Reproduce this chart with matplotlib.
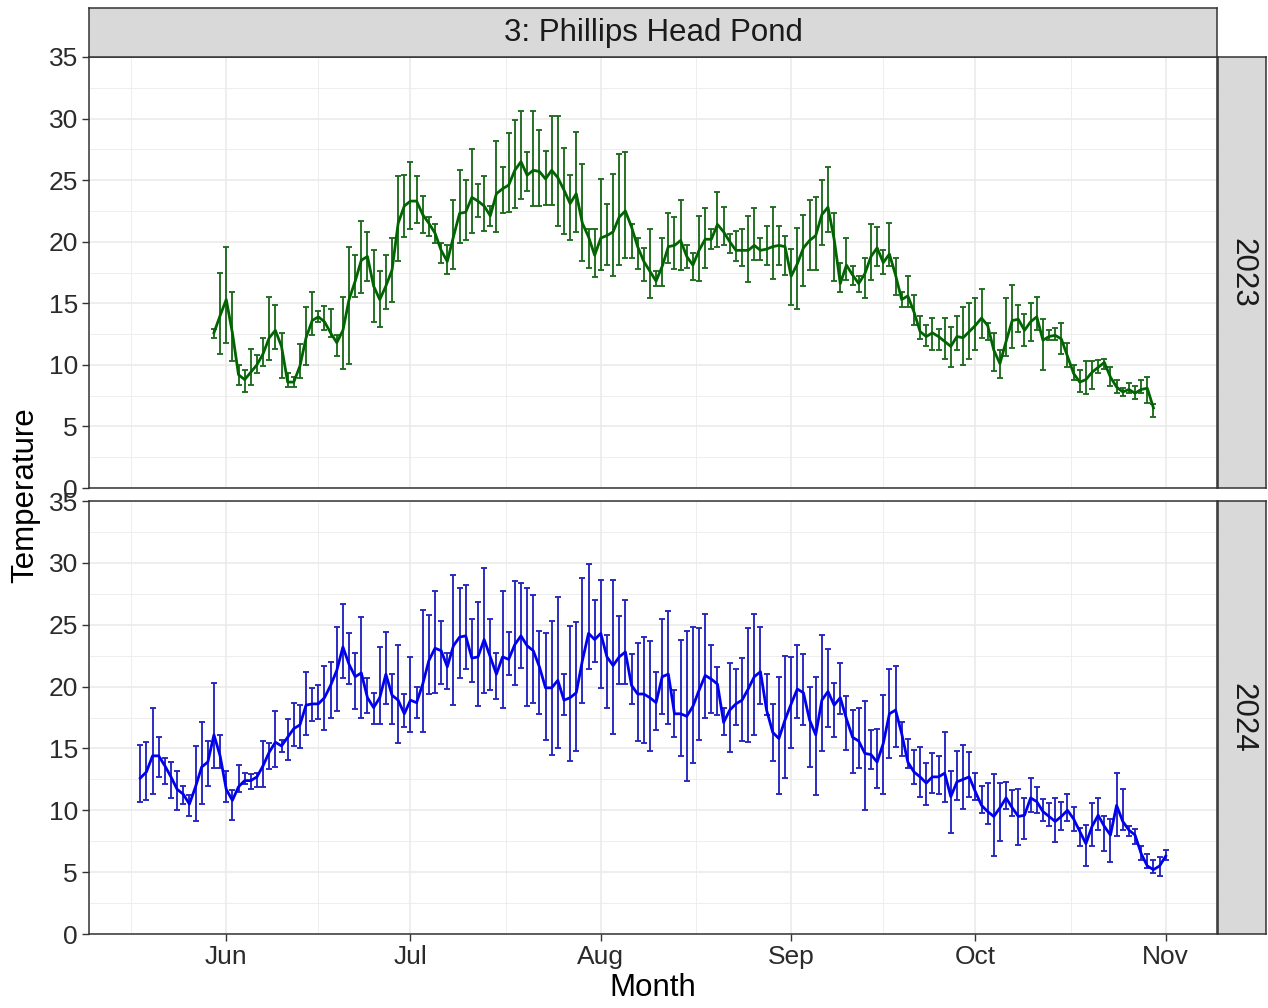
import numpy as np
import pandas as pd
import matplotlib
matplotlib.use("Agg")
import matplotlib.pyplot as plt
import matplotlib.dates as mdates

plt.rcParams['font.family'] = ['Liberation Sans', 'DejaVu Sans']

# Data ========================================================================
site_name = "3: Phillips Head Pond"
year_labels = ["2023", "2024"]
start_2023 = "2023-05-30"
start_2024 = "2024-05-18"

mean_2023 = [12.6, 14.0, 15.3, 12.6, 9.2, 8.8, 9.4, 10.0, 10.9, 12.2,
             12.8, 11.5, 8.6, 8.6, 9.9, 12.2, 13.6, 13.9, 13.5, 12.6,
             11.8, 12.8, 15.3, 16.8, 18.5, 18.8, 16.4, 15.3, 16.4, 17.7,
             21.5, 22.9, 23.3, 23.3, 22.2, 21.5, 20.7, 19.3, 18.4, 20.4,
             22.3, 22.4, 23.6, 23.3, 22.9, 22.1, 23.9, 24.3, 24.6, 25.8,
             26.5, 25.4, 25.8, 25.7, 25.1, 25.8, 25.2, 24.2, 23.1, 23.9,
             21.5, 20.4, 18.9, 20.3, 20.5, 20.8, 22.0, 22.5, 21.2, 19.6,
             18.4, 17.6, 16.8, 18.0, 19.6, 19.7, 20.1, 18.8, 18.1, 19.3,
             20.2, 20.2, 21.4, 20.8, 20.0, 19.3, 19.3, 19.3, 19.7, 19.3,
             19.4, 19.6, 19.7, 19.6, 17.2, 18.2, 19.5, 20.1, 20.5, 22.2,
             22.8, 20.2, 16.6, 18.1, 17.3, 16.6, 17.4, 18.8, 19.5, 18.3,
             19.0, 17.3, 15.3, 15.6, 14.3, 12.7, 12.3, 12.6, 12.3, 11.9,
             11.5, 12.3, 12.2, 12.7, 13.2, 13.8, 13.2, 11.2, 10.1, 11.9,
             13.6, 13.7, 12.8, 13.5, 13.9, 12.0, 12.3, 12.4, 12.1, 10.7,
             9.3, 8.6, 8.8, 9.4, 9.8, 10.2, 9.0, 8.2, 7.8, 8.0,
             7.7, 8.0, 8.1, 6.5]
low_2023 = [12.2, 10.9, 11.8, 10.3, 8.4, 7.8, 8.4, 9.3, 9.9, 10.4,
            11.3, 8.9, 8.2, 8.2, 8.9, 10.0, 12.4, 13.5, 12.8, 12.3,
            10.7, 9.7, 10.1, 15.5, 15.8, 16.8, 13.5, 13.1, 14.5, 15.1,
            18.4, 20.4, 21.0, 21.5, 20.7, 20.5, 19.9, 18.3, 17.4, 17.8,
            19.9, 20.1, 20.7, 22.0, 20.9, 21.3, 20.8, 22.3, 22.4, 22.7,
            23.5, 24.1, 22.9, 22.9, 23.0, 23.0, 21.3, 20.6, 20.1, 20.8,
            18.4, 17.9, 17.1, 17.7, 18.1, 17.2, 18.1, 18.7, 18.7, 17.8,
            16.8, 15.4, 16.4, 16.4, 18.3, 17.8, 17.7, 17.9, 16.9, 16.8,
            17.9, 19.4, 19.6, 19.7, 19.1, 18.4, 18.0, 16.7, 18.5, 18.5,
            18.1, 17.0, 18.1, 17.3, 14.9, 14.5, 16.4, 17.7, 17.7, 19.7,
            20.8, 16.8, 15.9, 16.9, 16.5, 15.9, 15.4, 16.9, 18.0, 17.4,
            18.0, 15.7, 14.7, 14.7, 13.2, 12.1, 11.5, 11.2, 11.2, 10.5,
            9.8, 11.2, 10.0, 10.5, 11.2, 12.2, 12.0, 9.5, 8.9, 10.7,
            11.4, 12.7, 11.5, 11.9, 12.8, 9.6, 12.0, 12.0, 10.9, 9.8,
            8.8, 7.8, 7.6, 8.0, 9.3, 9.7, 8.3, 7.7, 7.5, 7.7,
            7.2, 7.7, 6.9, 5.8]
high_2023 = [12.9, 17.5, 19.6, 15.9, 10.0, 9.6, 11.3, 10.8, 12.2, 15.5,
             14.9, 12.6, 9.3, 9.0, 11.7, 14.7, 15.9, 14.4, 14.8, 14.5,
             12.4, 15.5, 19.6, 18.9, 21.7, 20.8, 19.3, 17.6, 18.9, 20.3,
             25.3, 25.4, 26.5, 25.3, 23.7, 22.0, 21.4, 19.9, 19.7, 23.4,
             25.8, 25.0, 27.5, 24.7, 25.3, 22.9, 28.2, 26.1, 28.8, 29.9,
             30.6, 27.3, 30.6, 29.1, 27.4, 30.2, 30.2, 27.6, 25.4, 28.9,
             26.3, 21.0, 21.0, 25.1, 23.1, 25.5, 27.1, 27.3, 21.4, 20.3,
             19.5, 21.0, 17.6, 20.3, 22.3, 22.0, 23.4, 19.7, 19.1, 22.1,
             22.7, 21.0, 24.0, 22.8, 20.6, 20.9, 21.0, 22.1, 22.7, 20.3,
             21.3, 22.8, 21.3, 20.5, 19.4, 21.1, 22.2, 23.4, 23.6, 25.0,
             26.1, 22.3, 18.3, 20.3, 18.0, 17.2, 18.7, 21.4, 21.2, 19.3,
             21.5, 18.7, 15.9, 17.2, 15.7, 14.0, 13.2, 13.8, 12.9, 13.8,
             13.1, 14.0, 14.7, 15.0, 15.4, 16.2, 13.4, 12.6, 11.2, 15.4,
             16.5, 14.9, 14.1, 15.0, 15.5, 13.7, 12.8, 13.0, 13.4, 11.8,
             10.0, 9.6, 10.3, 10.3, 10.4, 10.5, 9.8, 8.8, 8.1, 8.5,
             8.3, 8.8, 9.0, 6.8]

mean_2024 = [12.6, 13.1, 14.4, 14.4, 13.6, 12.7, 11.7, 11.3, 10.5, 11.9,
             13.5, 13.9, 16.1, 14.4, 11.7, 10.8, 11.9, 12.4, 12.4, 12.7,
             13.6, 14.7, 15.5, 15.2, 15.9, 16.6, 16.9, 18.5, 18.6, 18.6,
             19.1, 20.1, 21.3, 23.2, 21.8, 20.8, 21.1, 19.1, 18.3, 19.1,
             21.0, 19.3, 18.9, 17.8, 18.9, 18.7, 20.2, 22.1, 23.1, 22.9,
             21.6, 23.3, 24.0, 24.1, 22.3, 22.4, 23.8, 22.4, 21.0, 22.4,
             22.2, 23.4, 24.1, 23.3, 22.9, 21.6, 19.9, 19.9, 20.5, 18.9,
             19.1, 19.5, 22.1, 24.3, 23.8, 24.3, 22.4, 21.7, 22.4, 22.8,
             20.1, 19.4, 19.4, 19.1, 18.7, 20.8, 21.0, 17.8, 17.8, 17.6,
             18.4, 19.7, 20.9, 20.6, 20.2, 17.1, 18.1, 18.6, 18.9, 19.8,
             20.8, 21.2, 18.1, 16.3, 15.8, 17.3, 18.6, 19.8, 19.5, 17.3,
             16.1, 18.9, 19.6, 18.5, 19.1, 17.4, 15.9, 15.6, 14.6, 14.5,
             13.9, 15.4, 17.8, 18.1, 16.2, 13.9, 13.1, 12.7, 12.2, 12.7,
             12.7, 13.0, 11.1, 12.3, 12.5, 12.7, 11.5, 10.4, 9.9, 9.5,
             10.2, 11.0, 10.2, 9.5, 9.6, 11.0, 10.7, 9.9, 9.5, 9.1,
             9.5, 10.0, 9.3, 8.3, 7.3, 8.7, 9.6, 8.7, 8.0, 10.4,
             9.1, 8.4, 8.0, 6.5, 5.5, 5.2, 5.5, 6.3]
low_2024 = [10.7, 10.8, 11.3, 12.7, 12.1, 11.0, 10.0, 10.5, 9.5, 9.1,
            10.5, 12.0, 13.4, 13.4, 10.7, 9.2, 11.5, 12.1, 11.7, 11.9,
            11.9, 13.3, 13.5, 14.7, 14.1, 15.2, 15.0, 16.1, 17.2, 17.4,
            16.5, 17.5, 18.0, 20.7, 20.2, 18.2, 17.5, 17.9, 17.0, 17.0,
            18.6, 17.0, 15.4, 16.7, 16.3, 17.5, 16.3, 19.4, 19.5, 20.2,
            19.8, 18.5, 20.7, 21.4, 20.4, 18.4, 19.5, 19.7, 19.0, 18.3,
            20.9, 20.1, 21.5, 18.4, 18.7, 17.8, 15.7, 14.5, 15.0, 17.7,
            14.0, 14.8, 18.7, 21.4, 22.0, 19.9, 18.3, 16.2, 20.2, 20.2,
            18.6, 15.6, 15.4, 14.8, 16.5, 17.8, 17.0, 15.9, 14.4, 12.4,
            13.8, 15.7, 17.5, 17.9, 17.7, 16.1, 14.7, 16.9, 15.6, 15.5,
            16.1, 18.6, 17.7, 14.0, 11.3, 12.6, 15.0, 17.5, 16.9, 13.5,
            11.2, 14.8, 16.7, 15.9, 17.8, 14.9, 13.0, 13.4, 10.0, 13.3,
            11.8, 11.3, 14.2, 15.1, 14.4, 13.4, 12.1, 11.1, 10.4, 11.4,
            11.3, 10.7, 8.2, 10.8, 10.1, 11.1, 10.8, 9.8, 8.9, 6.3,
            7.5, 10.1, 9.5, 7.2, 7.7, 9.9, 9.8, 9.1, 8.7, 7.4,
            8.4, 9.1, 8.3, 7.1, 5.5, 7.1, 8.4, 6.7, 5.8, 7.9,
            8.4, 7.9, 7.3, 6.0, 5.3, 4.9, 4.7, 6.0]
high_2024 = [15.3, 15.5, 18.3, 15.9, 14.2, 13.9, 13.2, 12.0, 11.2, 15.2,
             17.1, 15.6, 20.3, 16.1, 13.2, 11.6, 13.7, 13.0, 12.9, 13.0,
             15.6, 15.4, 18.0, 15.7, 17.4, 18.7, 18.5, 21.2, 19.9, 20.1,
             21.7, 22.0, 24.8, 26.7, 24.3, 22.7, 25.6, 20.7, 19.5, 23.2,
             24.4, 21.0, 23.4, 19.4, 22.4, 20.0, 26.2, 25.8, 27.7, 25.3,
             22.7, 29.0, 28.0, 28.2, 25.5, 26.8, 29.6, 25.5, 22.7, 27.7,
             24.4, 28.5, 28.4, 28.0, 27.4, 24.5, 24.3, 25.3, 27.2, 21.0,
             24.9, 25.2, 28.8, 29.9, 27.0, 28.6, 24.2, 28.6, 25.7, 27.0,
             22.6, 23.5, 24.0, 23.7, 21.2, 25.5, 26.1, 19.7, 23.8, 24.5,
             24.8, 24.7, 25.9, 23.4, 21.6, 18.3, 21.9, 21.4, 22.3, 24.7,
             25.9, 24.8, 21.0, 18.6, 20.8, 22.5, 22.4, 23.4, 22.6, 20.0,
             20.8, 24.2, 23.0, 20.3, 21.9, 19.2, 18.1, 18.3, 18.8, 16.5,
             16.6, 19.3, 21.4, 21.7, 17.1, 15.8, 14.9, 15.1, 13.8, 14.6,
             14.4, 16.3, 13.2, 14.8, 15.3, 14.7, 13.0, 12.0, 12.2, 12.9,
             12.2, 12.3, 11.6, 11.7, 11.0, 12.6, 11.9, 10.9, 10.6, 11.0,
             10.7, 11.3, 10.3, 8.6, 8.8, 10.6, 11.0, 9.5, 9.3, 13.0,
             11.7, 8.7, 8.5, 7.1, 6.5, 6.0, 6.2, 6.8]

# Styling ======================================================================
W_PX, H_PX = 1268, 1008
grey20 = '#333333'
grid_col = '#EBEBEB'
strip_col = '#D9D9D9'

series = [
    (start_2023, mean_2023, low_2023, high_2023, '#006400', '#1E6A1E'),
    (start_2024, mean_2024, low_2024, high_2024, '#0000F0', '#2424C0'),
]


def to_common_year(start, n):
    # both years share one month axis, so put the dates in one year
    d = pd.date_range(start, periods=n, freq='D')
    return pd.to_datetime([x.replace(year=2024) for x in d])


def fx(px):
    return px / W_PX


def fy(px):
    return 1 - px / H_PX


fig = plt.figure(figsize=(W_PX / 100, H_PX / 100), dpi=100)

panel_rows = [(57, 488), (501, 934)]
left_px, right_px = 89, 1217

all_dates = [to_common_year(s[0], len(s[1])) for s in series]
dmin = min(d.min() for d in all_dates)
dmax = max(d.max() for d in all_dates)
pad = (dmax - dmin) * 0.05
xlim = (mdates.date2num(dmin - pad), mdates.date2num(dmax + pad))

major = pd.date_range("2024-05-01", "2024-12-01", freq='MS')
major_num = mdates.date2num(major)
minor_num = (major_num[:-1] + major_num[1:]) / 2

for i, (top, bot) in enumerate(panel_rows):
    ax = fig.add_axes([fx(left_px), fy(bot), fx(right_px - left_px), (bot - top) / H_PX])
    start, mean, low, high, line_col, bar_col = series[i]
    dates = all_dates[i]
    mean = np.array(mean)
    yerr = np.vstack([mean - np.array(low), np.array(high) - mean]).clip(min=0)

    # grid
    for v in np.arange(2.5, 35, 5):
        ax.axhline(v, color=grid_col, lw=0.6, zorder=0)
    for v in np.arange(0, 36, 5):
        ax.axhline(v, color=grid_col, lw=1.2, zorder=0)
    for v in minor_num:
        ax.axvline(v, color=grid_col, lw=0.6, zorder=0)
    for v in major_num:
        ax.axvline(v, color=grid_col, lw=1.2, zorder=0)

    ax.errorbar(dates, mean, yerr=yerr, fmt='none', ecolor=bar_col,
                elinewidth=1.35, capsize=2.0, capthick=1.35, zorder=2)
    ax.plot(dates, mean, color=line_col, lw=2.0, zorder=3)

    ax.set_xlim(xlim)
    ax.set_ylim(0, 35)
    ax.set_yticks(np.arange(0, 36, 5))
    ax.set_xticks(major_num[1:-1])
    ax.xaxis.set_major_formatter(mdates.DateFormatter('%b'))
    ax.tick_params(axis='both', length=5, width=1.0, color=grey20,
                   labelsize=19, labelcolor='#2b2b2b', pad=3)
    for sp in ax.spines.values():
        sp.set_color(grey20)
        sp.set_linewidth(1.1)
    if i == 0:
        ax.tick_params(axis='x', bottom=False, labelbottom=False)

    # right strip with the year
    sax = fig.add_axes([fx(right_px + 1), fy(bot), fx(W_PX - 2 - right_px - 1), (bot - top) / H_PX])
    sax.set_facecolor(strip_col)
    sax.set_xticks([])
    sax.set_yticks([])
    for sp in sax.spines.values():
        sp.set_color(grey20)
        sp.set_linewidth(1.1)
    sax.text(0.5, 0.5, year_labels[i], rotation=-90, ha='center', va='center',
             fontsize=22.5, color='#1A1A1A', transform=sax.transAxes)

# top strip with the site name
tax = fig.add_axes([fx(left_px), fy(57), fx(right_px - left_px), 49 / H_PX])
tax.set_facecolor(strip_col)
tax.set_xticks([])
tax.set_yticks([])
for sp in tax.spines.values():
    sp.set_color(grey20)
    sp.set_linewidth(1.1)
tax.text(0.5, 0.5, site_name, ha='center', va='center', fontsize=22.5,
         color='#1A1A1A', transform=tax.transAxes)

fig.text(fx(653), fy(988), "Month", ha='center', va='center', fontsize=22.5)
fig.text(fx(25), fy(495), "Temperature", ha='center', va='center',
         rotation=90, fontsize=22.5)

fig.savefig("out.png", dpi=100, facecolor='white')
